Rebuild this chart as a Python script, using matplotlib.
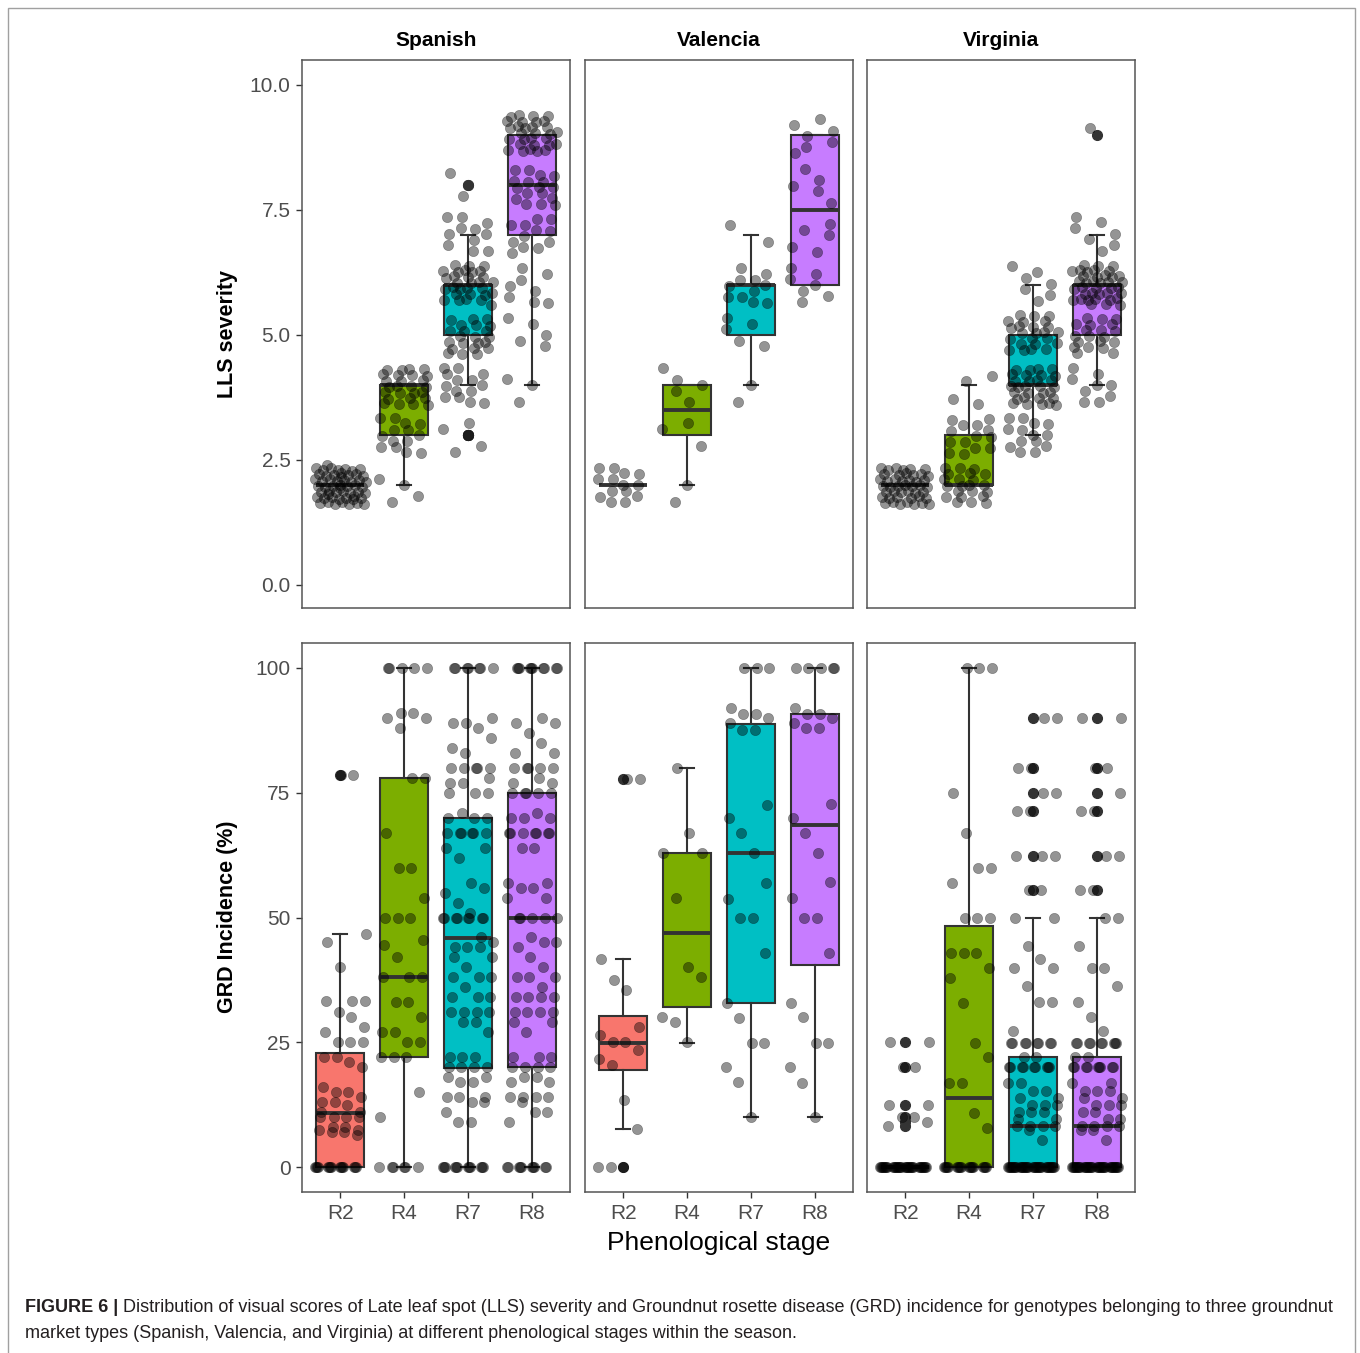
import numpy as np
import matplotlib.pyplot as plt
from matplotlib import cbook
from matplotlib.patches import Rectangle

plt.rcParams['font.family'] = ['Liberation Sans', 'DejaVu Sans']

W, H = 1360, 1353

markets = ["Spanish", "Valencia", "Virginia"]
stages = ["R2", "R4", "R7", "R8"]
stage_colors = ["#F8766D", "#7CAE00", "#00BFC4", "#C77CFF"]

# LLS severity: number of genotypes per visual score (1-9 scale)
spanish_lls = {"R2": {2: 55},
               "R4": {2: 4, 3: 14, 4: 26},
               "R7": {3: 5, 4: 14, 5: 22, 6: 30, 7: 11, 8: 2},
               "R8": {4: 3, 5: 5, 6: 8, 7: 12, 8: 17, 9: 30}}
valencia_lls = {"R2": {2: 14},
                "R4": {2: 2, 3: 3, 4: 5},
                "R7": {4: 2, 5: 5, 6: 11, 7: 2},
                "R8": {6: 7, 7: 5, 8: 5, 9: 7}}
virginia_lls = {"R2": {2: 45},
                "R4": {2: 22, 3: 14, 4: 4},
                "R7": {3: 14, 4: 30, 5: 24, 6: 7},
                "R8": {4: 9, 5: 20, 6: 38, 7: 7, 9: 1}}

# GRD incidence (%): value -> number of genotypes
spanish_grd = {
    "R2": {0: 15, 6.5: 1, 7: 2, 7.5: 2, 8: 2, 10: 4, 11: 2, 12.5: 1, 13: 2, 14: 1, 15: 2,
           16: 1, 20: 1, 21: 1, 22: 2, 25: 3, 27: 1, 28: 1, 30: 1, 31: 1, 33.3: 3, 40: 1,
           45: 1, 46.7: 1, 78.5: 2},
    "R4": {0: 6, 10: 1, 15: 1, 22: 3, 25: 2, 27: 2, 30: 1, 33: 2, 38: 3, 42: 1, 44.5: 1,
           45.5: 1, 50: 3, 54: 1, 60: 2, 67: 1, 78: 2, 88: 1, 90: 2, 91: 2, 100: 5},
    "R7": {0: 12, 9: 2, 11: 1, 13: 2, 14: 3, 17: 2, 18: 2, 20: 4, 22: 3, 27: 1, 29: 2,
           31: 4, 34: 3, 36: 1, 38: 3, 40: 1, 42: 2, 44: 3, 45: 1, 46: 1, 50: 8, 51: 1,
           53: 1, 55: 1, 56: 1, 57: 1, 62: 1, 64: 2, 67: 6, 70: 3, 71: 1, 75: 3, 77: 2,
           78: 1, 80: 5, 83: 1, 84: 1, 86: 1, 88: 1, 89: 2, 90: 1, 100: 7},
    "R8": {0: 10, 9: 1, 11: 2, 13: 1, 14: 4, 17: 2, 18: 2, 20: 4, 22: 3, 27: 1, 29: 2,
           31: 4, 34: 4, 36: 1, 38: 3, 40: 1, 42: 1, 44: 1, 45: 2, 46: 1, 50: 5, 54: 2,
           56: 2, 57: 2, 64: 2, 67: 7, 70: 3, 71: 1, 75: 5, 77: 2, 78: 1, 80: 5, 83: 2,
           85: 1, 87: 1, 89: 2, 90: 1, 100: 10}}
valencia_grd = {
    "R2": {0: 3, 7.7: 1, 13.5: 1, 20.5: 1, 21.7: 1, 23.4: 1, 25: 2, 26.4: 1, 28: 1,
           35.5: 1, 37.5: 1, 41.7: 1, 77.7: 2},
    "R4": {25: 1, 29: 1, 30: 1, 38: 1, 40: 1, 54: 1, 63: 2, 67: 1, 80: 1},
    "R7": {10: 1, 17: 1, 20: 1, 24.9: 2, 29.9: 1, 32.9: 1, 42.9: 1, 50: 2, 53.8: 1, 57: 1,
           62.9: 1, 67: 1, 70: 1, 72.6: 1, 87.6: 2, 89: 1, 90: 1, 90.8: 2, 91.9: 1, 100: 3},
    "R8": {10: 1, 16.8: 1, 20: 1, 24.9: 2, 30: 1, 32.9: 1, 42.9: 1, 50: 2, 53.9: 1,
           57.1: 1, 62.9: 1, 66.9: 1, 69.9: 1, 72.7: 1, 87.9: 2, 88.9: 1, 90: 1, 90.8: 2,
           91.9: 1, 100: 5}}
virginia_grd = {
    "R2": {0: 34, 8.2: 1, 9: 1, 10: 2, 12.5: 2, 20: 2, 25: 2},
    "R4": {0: 19, 7.9: 1, 10.9: 1, 16.8: 2, 22: 1, 24.9: 1, 32.9: 1, 37.9: 1, 39.9: 1,
           42.9: 3, 50: 3, 56.9: 1, 60: 2, 66.9: 1, 75: 1, 100: 3},
    "R7": {0: 36, 5.4: 1, 7.5: 1, 8.2: 4, 9.7: 2, 11.1: 3, 12.5: 3, 13.9: 2, 15.2: 2,
           16.8: 2, 20: 9, 22.1: 2, 24.9: 8, 27.2: 1, 33.1: 2, 36.3: 1, 39.9: 2, 41.6: 1,
           44.3: 1, 49.9: 2, 55.6: 2, 62.4: 3, 71.3: 2, 75: 2, 80: 2, 90: 2},
    "R8": {0: 36, 5.4: 1, 7.5: 2, 8.2: 4, 9.7: 2, 11.1: 2, 12.5: 3, 13.9: 2, 15.2: 3,
           16.8: 2, 20: 9, 22.1: 2, 24.9: 9, 27.2: 1, 30: 1, 33.1: 1, 36.3: 1, 39.9: 2,
           44.3: 1, 49.9: 2, 55.6: 2, 62.4: 2, 71.3: 2, 75: 1, 80: 2, 90: 2}}

# GRD box summaries: (whisker low, q1, median, q3, whisker high)
spanish_grd_box = {"R2": (0, 0, 10.8, 22.8, 46.7), "R4": (0, 22, 38, 78, 100),
                   "R7": (0, 19.8, 45.9, 70, 100), "R8": (0, 20, 50, 75, 100)}
valencia_grd_box = {"R2": (7.7, 19.5, 24.9, 30.3, 41.7), "R4": (24.9, 32, 46.9, 62.9, 80),
                    "R7": (10, 32.8, 62.9, 88.8, 100), "R8": (10, 40.4, 68.5, 90.7, 100)}
virginia_grd_box = {"R2": (0, 0, 0, 0, 0), "R4": (0, 0, 13.9, 48.3, 100),
                    "R7": (0, 0, 8.2, 22.1, 49.9), "R8": (0, 0, 8.2, 22.1, 49.9)}
spanish_grd_out = {"R2": [78.5], "R4": [], "R7": [], "R8": []}
valencia_grd_out = {"R2": [77.7, 0], "R4": [], "R7": [], "R8": []}
virginia_grd_out = {"R2": [25, 20, 12.5, 10, 9, 8.2], "R4": [],
                    "R7": [90, 80, 75, 71.3, 62.4, 55.6], "R8": [90, 80, 75, 71.3, 62.4, 55.6]}

lls_ticks = [0, 2.5, 5, 7.5, 10]
lls_labels = ["0.0", "2.5", "5.0", "7.5", "10.0"]
grd_ticks = [0, 25, 50, 75, 100]
grd_labels = ["0", "25", "50", "75", "100"]

caption_bold = "FIGURE 6 |"
caption_line1 = (" Distribution of visual scores of Late leaf spot (LLS) severity and Groundnut rosette "
                 "disease (GRD) incidence for genotypes belonging to three groundnut")
caption_line2 = ("market types (Spanish, Valencia, and Virginia) at different phenological stages "
                 "within the season.")

EDGE = "#333333"


def frac(v):
    return v - np.floor(v)


def expand(counts):
    vals = np.array(list(counts.keys()), float)
    reps = np.array(list(counts.values()))
    order = np.argsort(vals)
    return np.repeat(vals[order], reps[order])


def draw_panel(ax, groups, stats, yjitter):
    arts = ax.bxp(stats, positions=[1, 2, 3, 4], widths=0.75, capwidths=0.22,
                  patch_artist=True, manage_ticks=False,
                  boxprops=dict(edgecolor=EDGE, linewidth=1.5),
                  medianprops=dict(color=EDGE, linewidth=2.8, solid_capstyle="butt"),
                  whiskerprops=dict(color=EDGE, linewidth=1.5),
                  capprops=dict(color=EDGE, linewidth=1.5),
                  flierprops=dict(marker="o", markerfacecolor=EDGE, markeredgecolor=EDGE,
                                  markersize=7, linestyle="none"))
    for patch, c in zip(arts["boxes"], stage_colors):
        patch.set_facecolor(c)
    for k, stage in enumerate(stages):
        y = expand(groups[stage])
        i = np.arange(len(y))
        x = k + 1 + 0.4 * (2 * frac(0.5 + i * 0.7548777) - 1)
        if yjitter:
            y = y + 0.4 * (2 * frac(0.5 + i * 0.5698403) - 1)
        ax.scatter(x, y, s=55, color="black", alpha=0.42, linewidths=0.4, zorder=4)


fig = plt.figure(figsize=(W / 100, H / 100), dpi=100)

col_left = [302, 585, 867]
pw = 268
rows = [(60, 608), (643, 1192)]

lls_sets = [spanish_lls, valencia_lls, virginia_lls]
grd_sets = [spanish_grd, valencia_grd, virginia_grd]
grd_boxes = [spanish_grd_box, valencia_grd_box, virginia_grd_box]
grd_outs = [spanish_grd_out, valencia_grd_out, virginia_grd_out]

for r, (top, bot) in enumerate(rows):
    for c, left in enumerate(col_left):
        ax = fig.add_axes([left / W, 1 - bot / H, pw / W, (bot - top) / H])
        if r == 0:
            groups = lls_sets[c]
            stats = []
            for s in stages:
                st = cbook.boxplot_stats(expand(groups[s]), whis=1.5)[0]
                stats.append(st)
            draw_panel(ax, groups, stats, True)
            ax.set_ylim(-0.47, 10.5)
            ax.set_yticks(lls_ticks)
            ax.set_yticklabels(lls_labels)
        else:
            groups = grd_sets[c]
            stats = []
            for s in stages:
                lo, q1, med, q3, hi = grd_boxes[c][s]
                stats.append(dict(whislo=lo, q1=q1, med=med, q3=q3, whishi=hi,
                                  fliers=grd_outs[c][s]))
            draw_panel(ax, groups, stats, False)
            ax.set_ylim(-5, 105)
            ax.set_yticks(grd_ticks)
            ax.set_yticklabels(grd_labels)
        ax.set_xlim(0.4, 4.6)
        ax.set_xticks([1, 2, 3, 4])
        ax.set_xticklabels(stages)
        for sp in ax.spines.values():
            sp.set_color("#555555")
            sp.set_linewidth(1.1)
        ax.tick_params(length=4.3, width=1.0, color=EDGE, labelcolor="#4D4D4D",
                       labelsize=15, pad=4)
        if c > 0:
            ax.tick_params(axis="y", left=False, labelleft=False)
        if r == 0:
            ax.tick_params(axis="x", bottom=False, labelbottom=False)
        if r == 0:
            fig.text((left + pw / 2) / W, 1 - 40 / H, markets[c], ha="center", va="center",
                     fontsize=15, fontweight="bold")

fig.text(228 / W, 1 - 334 / H, "LLS severity", rotation=90, ha="center", va="center",
         fontsize=15.5, fontweight="bold")
fig.text(228 / W, 1 - 917 / H, "GRD Incidence (%)", rotation=90, ha="center", va="center",
         fontsize=15.5, fontweight="bold")
fig.text(719 / W, 1 - 1243 / H, "Phenological stage", ha="center", va="center", fontsize=19)

# journal frame
fig.patches.append(Rectangle((8 / W, -0.02), (1355 - 8) / W, 1.02 - 8 / H, transform=fig.transFigure,
                             fill=False, edgecolor="#A0A0A0", linewidth=1.0))

# caption, sized to the width of the first line
rend = fig.canvas.get_renderer()
fs = 13
cap_font = ["Liberation Sans Narrow", "Liberation Sans"]
tb = fig.text(25 / W, 1 - 1308 / H, caption_bold, fontsize=fs, fontweight="bold",
              va="center", ha="left", color="#231F20", family=cap_font)
t1 = fig.text(25 / W, 1 - 1308 / H, caption_line1, fontsize=fs, va="center", ha="left",
              color="#231F20", family=cap_font)
wb = tb.get_window_extent(rend).width
w1 = t1.get_window_extent(rend).width
scale = (1332 - 25) / (wb + w1)
fs = fs * scale
tb.set_fontsize(fs)
t1.set_fontsize(fs)
wb = tb.get_window_extent(rend).width
t1.set_x((25 + wb) / W)
fig.text(25 / W, 1 - 1334 / H, caption_line2, fontsize=fs, va="center", ha="left",
         color="#231F20", family=cap_font)

fig.savefig("out.png", dpi=100)
